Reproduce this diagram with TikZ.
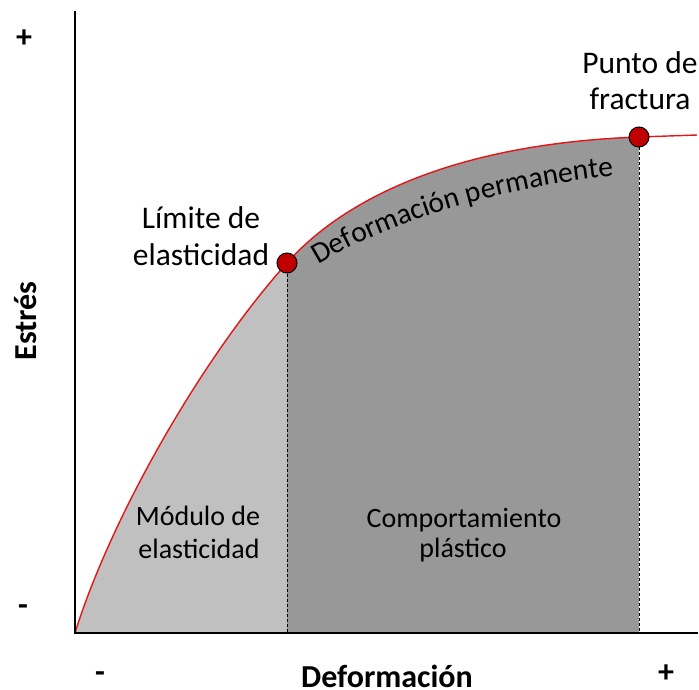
\documentclass[tikz,border=0pt]{standalone}
\usepackage{fontspec}
\setmainfont{Carlito}
\usetikzlibrary{decorations.text}
\definecolor{lightfill}{RGB}{192,192,192}
\definecolor{darkfill}{RGB}{153,152,153}
\definecolor{curvered}{RGB}{230,20,20}
\definecolor{dotred}{RGB}{192,0,0}
\newcommand\biglblfont{\fontsize{31.5}{36}\selectfont}
\newcommand\lblfont{\fontsize{28}{33}\selectfont}
\newcommand\arclblfont{\fontsize{29.5}{33}\selectfont}
\newcommand\boldfont{\fontsize{32}{36}\selectfont\bfseries}
\begin{document}
\begin{tikzpicture}[x=1pt,y=-1pt,
  axis/.style={line width=2.5pt,line cap=rect},
  curve/.style={curvered,line width=1.4pt},
  dashline/.style={line width=1pt,dash pattern=on 3pt off 2pt},
  dot/.style={circle,draw=black,line width=1pt,fill=dotred,minimum size=20pt,inner sep=0pt},
  lbl/.style={font=\lblfont,anchor=base,inner sep=0pt},
  biglbl/.style={font=\biglblfont,anchor=base,inner sep=0pt},
  blbl/.style={font=\boldfont,inner sep=0pt}]
\useasboundingbox (0,0) rectangle (699,690);
\coordinate (O) at (75,633);
\coordinate (ytop) at (75,12);
\coordinate (xend) at (697,633);
\coordinate (cend) at (697,135);
\coordinate (ycorner) at (697,633);
% fills under the curve
\begin{scope}
  \clip (O) .. controls (110,520) and (200,360) .. (287,263)
        .. controls (325,220) and (420,145) .. (639,137)
        .. controls (668,136) and (683,135.5) .. (cend) -- (ycorner) -- cycle;
  \fill[lightfill] (75,0) rectangle (287,633);
  \fill[darkfill] (287,0) rectangle (639,633);
\end{scope}
% curve
\draw[curve] (O) .. controls (110,520) and (200,360) .. (287,263)
        .. controls (325,220) and (420,145) .. (639,137)
        .. controls (668,136) and (683,135.5) .. (cend);
% axes
\draw[axis] (ytop) -- (O) -- (xend);
% points
\node[dot] (ey) at (287,263) {};
\node[dot] (fp) at (639,137) {};
\draw[dashline] (ey.south) -- (ey.south |- O);
\draw[dashline] (fp.south) -- (fp.south |- O);
% labels
\node[biglbl] (le1) at (201,228) {Límite de};
\node[biglbl] (le2) at (201,265) {elasticidad};
\node[biglbl] (pf1) at (640,74) {Punto de};
\node[biglbl] (pf2) at (640,110) {fractura};
\node[lbl] (me1) at (198,525) {Módulo de};
\node[lbl] (me2) at (199,558) {elasticidad};
\node[lbl] (cp1) at (464,527) {Comportamiento};
\node[lbl] (cp2) at (463,557) {plástico};
\path[decorate,decoration={text along path,text={|\arclblfont|Deformación permanente},text align=center}]
  (318,265) .. controls (388,222) and (500,187) .. (614,176);
% axis labels
\node[blbl,rotate=90] (ylab) at (26,321) {Estrés};
\node[blbl,anchor=base] (xlab) at (387,687) {Deformación};
\node[blbl] (yplus) at (24,39) {+};
\node[blbl] (yminus) at (23,610) {-};
\node[blbl] (xminus) at (100,677) {-};
\node[blbl] (xplus) at (666,674) {+};
\end{tikzpicture}
\end{document}
